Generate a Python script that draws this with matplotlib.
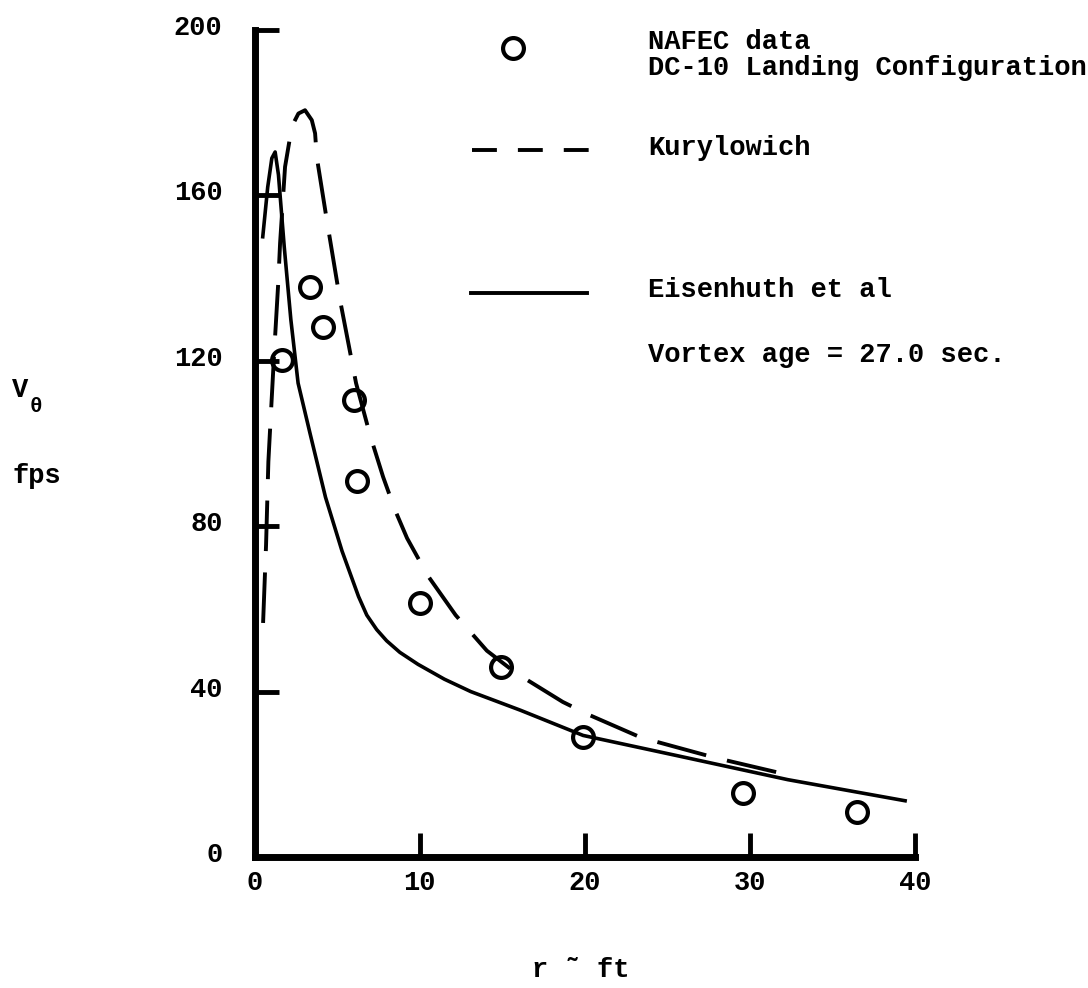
import matplotlib.pyplot as plt
import matplotlib.transforms as mtransforms
plt.close('all')

# NAFEC measurements, DC-10 landing configuration
r_nafec = [1.65, 3.35, 4.15, 6.0, 6.2, 10.0, 14.9, 19.9, 29.6, 36.5]
v_nafec = [120.2, 137.9, 128.2, 110.5, 91.0, 61.4, 46.0, 29.1, 15.5, 10.9]

# Kurylowich model
r_kury = [0.52, 0.70, 0.84, 1.0, 1.2, 1.44, 1.55, 1.85, 2.15, 2.25, 2.66, 3.06, 3.47, 3.67,
          3.77, 4.38, 5.18, 6.15, 7.0, 7.79, 8.5, 9.24, 10.5, 12.18, 14.07, 15.83, 18.67, 20.3,
          23.4, 27.9, 32.7]
v_kury = [56.6, 75.5, 95.6, 107.7, 122.6, 139.0, 148.5, 166.9, 174.0, 176.6, 179.8, 180.6, 178.2, 175.0,
          169.3, 154.0, 134.7, 114.6, 102.0, 91.9, 84.0, 77.1, 68.0, 58.5, 49.9, 44.5, 37.5, 34.3,
          28.9, 24.0, 19.5]

# Eisenhuth et al model
r_eis = [0.5, 0.8, 1.05, 1.25, 1.45, 1.8, 2.2, 2.64, 3.36, 4.3, 5.3, 6.3, 6.8, 7.4, 8.0, 8.8, 9.9,
         11.5, 13.1, 16.1, 19.9, 25.6, 32.3, 39.4]
v_eis = [150.0, 162.0, 169.0, 170.5, 165.0, 147.6, 130.0, 114.6, 102.5, 87.0, 74.0, 63.0, 58.5, 55.0,
         52.3, 49.5, 46.6, 43.0, 40.0, 35.5, 29.4, 24.5, 18.7, 13.6]

xticks = [0, 10, 20, 30, 40]
yticks = [0, 40, 80, 120, 160, 200]

FONT = 'Liberation Mono'
FS = 19.5

fig = plt.figure(figsize=(10.88, 9.88), dpi=100)
ax = fig.add_axes([254.5/1088, 131/988, 660.5/1088, 827/988])

ax.plot(r_kury, v_kury, color='k', linewidth=2.8, dashes=(13, 5.5))
ax.plot(r_eis, v_eis, color='k', linewidth=2.6)
ax.plot(r_nafec, v_nafec, 'o', markersize=15, markerfacecolor='none',
        markeredgecolor='k', markeredgewidth=3)

ax.set_xlim(0, 40)
ax.set_ylim(0, 200)
ax.set_xticks(xticks)
ax.set_yticks(yticks)
ax.set_xticklabels([str(t) for t in xticks], fontfamily=FONT, fontsize=FS, fontweight='bold')
ax.set_yticklabels([str(t) for t in yticks], fontfamily=FONT, fontsize=FS, fontweight='bold')
ax.tick_params(axis='both', direction='in', length=17, width=3.5, color='k')
ax.tick_params(axis='x', pad=9)
ax.tick_params(axis='y', pad=23)
ax.xaxis.get_major_ticks()[0].tick1line.set_visible(False)
ax.yaxis.get_major_ticks()[0].tick1line.set_visible(False)
# y labels sit a little above their ticks
lift = mtransforms.ScaledTranslation(0, 5/100, fig.dpi_scale_trans)
for lab in ax.get_yticklabels():
    lab.set_verticalalignment('center_baseline')
    lab.set_transform(lab.get_transform() + lift)

for side in ['top', 'right']:
    ax.spines[side].set_visible(False)
for side in ['left', 'bottom']:
    ax.spines[side].set_linewidth(5)
    ax.spines[side].set_capstyle('projecting')
ax.patch.set_visible(False)

# hand-placed key, in axes fraction
def axf(px, py):
    return (px - 254.5) / 660.5, (857 - py) / 827

tr = ax.transAxes
x0, y0 = axf(513, 48)
ax.plot([x0], [y0], 'o', transform=tr, markersize=15, markerfacecolor='none',
        markeredgecolor='k', markeredgewidth=3, clip_on=False)
xa, ya = axf(472, 150)
xb, _ = axf(589, 150)
ax.plot([xa, xb], [ya, ya], transform=tr, color='k', linewidth=2.8, dashes=(6.4, 5.4), clip_on=False)
xa, ya = axf(471, 293)
xb, _ = axf(587, 293)
ax.plot([xa, xb], [ya, ya], transform=tr, color='k', linewidth=2.8, clip_on=False)

txt = dict(transform=tr, fontfamily=FONT, fontsize=FS, fontweight='bold', va='center', ha='left')
tx, _ = axf(648, 0)
ax.text(tx, axf(0, 42)[1], 'NAFEC data', **txt)
ax.text(tx, axf(0, 68)[1], 'DC-10 Landing Configuration', **txt)
ax.text(tx, axf(0, 148)[1], 'Kurylowich', **txt)
ax.text(tx, axf(0, 290)[1], 'Eisenhuth et al', **txt)
ax.text(tx, axf(0, 355)[1], 'Vortex age = 27.0 sec.', **txt)

# axis titles
fig.text(12/1088, 1 - 390/988, 'V', fontfamily=FONT, fontsize=FS, fontweight='bold',
         va='center', ha='left')
fig.text(30/1088, 1 - 407/988, '\u03b8', fontfamily=FONT, fontsize=15, fontweight='bold',
         va='center', ha='left')
fig.text(12/1088, 1 - 476/988, 'fps', fontfamily=FONT, fontsize=FS, fontweight='bold',
         va='center', ha='left')
fig.text(581/1088, 1 - 970/988, 'r \u02dc ft', fontfamily=FONT, fontsize=FS, fontweight='bold',
         va='center', ha='center')

fig.savefig('out.png', dpi=100)
